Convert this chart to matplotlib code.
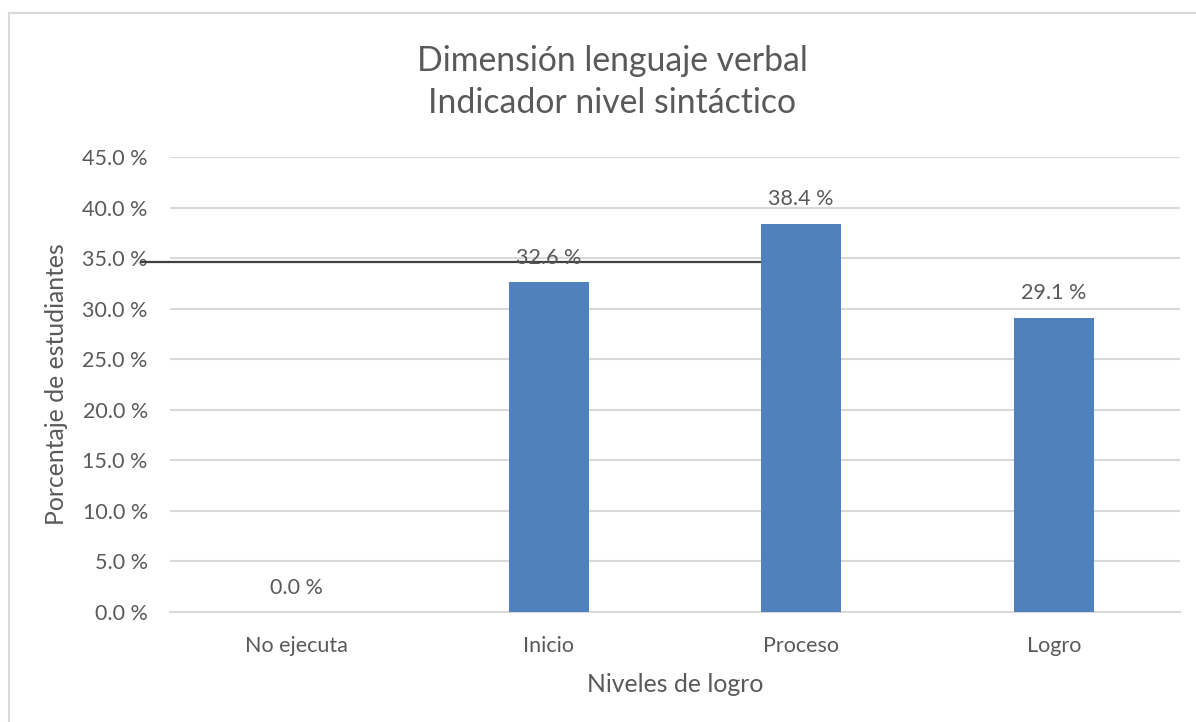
import matplotlib.pyplot as plt
from matplotlib.lines import Line2D

# Chart data
categories = ["No ejecuta", "Inicio", "Proceso", "Logro"]
values = [0.0, 32.6, 38.4, 29.1]
y_ticks = [0, 5, 10, 15, 20, 25, 30, 35, 40, 45]

title = "Dimensión lenguaje verbal\nIndicador nivel sintáctico"
x_label = "Niveles de logro"
y_label = "Porcentaje de estudiantes"

text_color = "#595959"
bar_color = "#4F81BD"
grid_color = "#D9D9D9"

plt.rcParams['font.family'] = ['Lato', 'DejaVu Sans']

fig = plt.figure(figsize=(11.96, 7.22), dpi=100)
ax = fig.add_axes([170 / 1196, 1 - 612 / 722, 1010 / 1196, 455 / 722])

x = list(range(len(categories)))
bars = ax.bar(x, values, width=0.317, color=bar_color, zorder=3)

ax.set_xlim(-0.5, len(categories) - 0.5)
ax.set_ylim(0, 45)
ax.set_yticks(y_ticks)
ax.set_yticklabels([f"{t:.1f} %" for t in y_ticks])
ax.set_xticks(x)
ax.set_xticklabels(categories)

ax.yaxis.grid(True, color=grid_color, linewidth=1.5, zorder=0)
ax.set_axisbelow(True)
for side in ["top", "right", "left"]:
    ax.spines[side].set_visible(False)
ax.spines["bottom"].set_color(grid_color)
ax.spines["bottom"].set_linewidth(1.5)

ax.tick_params(axis="y", length=0, pad=16, labelsize=15.5, labelcolor=text_color)
ax.tick_params(axis="x", length=0, pad=17.5, labelsize=15.5, labelcolor=text_color)

# Data labels above each bar
for xi, v in zip(x, values):
    ax.annotate(f"{v:.1f} %", (xi, v), xytext=(0, 17.5), textcoords="offset points",
                ha="center", va="center", fontsize=15.5, color=text_color, zorder=4)

# Stray dark line just under 35 % that runs into the Proceso bar
ax.plot([-0.615, 2.0], [34.6, 34.6], color="#404040", linewidth=1.6, zorder=2,
        clip_on=False)

ax.set_xlabel(x_label, fontsize=17.8, color=text_color, labelpad=12)
ax.set_ylabel(y_label, fontsize=17.8, color=text_color, labelpad=10)

fig.text(612 / 1196, 1 - 82 / 722, title, ha="center", va="center",
         fontsize=24.3, color=text_color, linespacing=1.4)

# Chart frame (only top and left edges visible)
fig.add_artist(Line2D([9 / 1196, 9 / 1196], [0, 1 - 13 / 722], color=grid_color,
                      linewidth=1.5, transform=fig.transFigure))
fig.add_artist(Line2D([9 / 1196, 1], [1 - 13 / 722, 1 - 13 / 722], color=grid_color,
                      linewidth=1.5, transform=fig.transFigure))

fig.savefig("out.png", dpi=100)
